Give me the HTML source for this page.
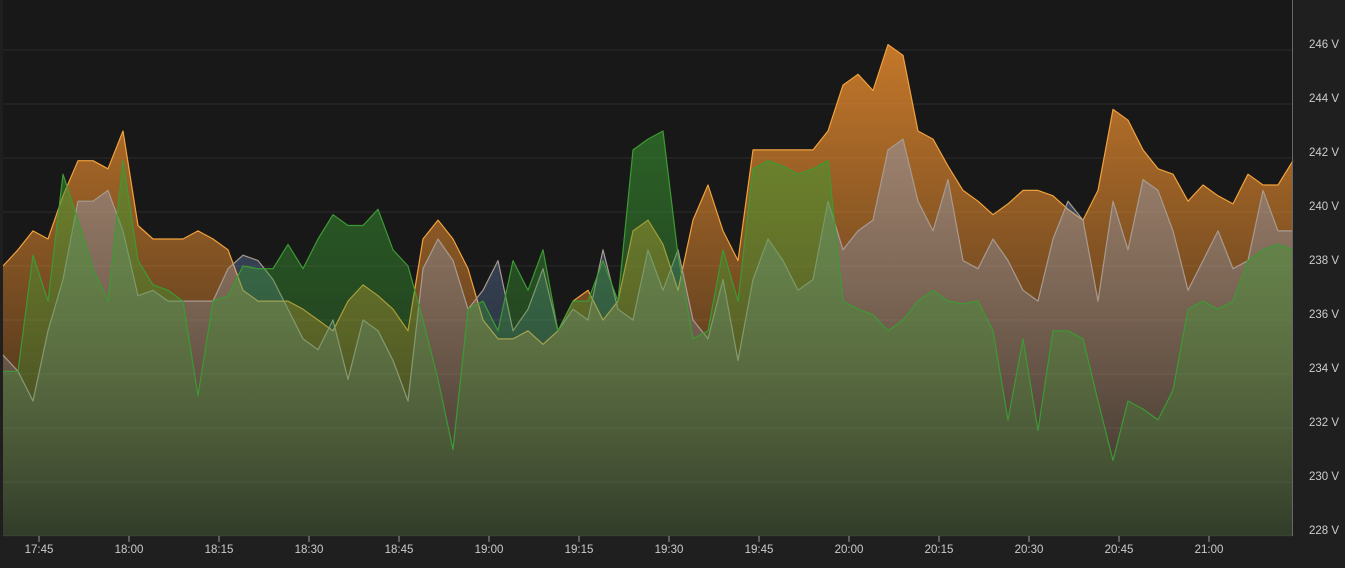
<!DOCTYPE html>
<html><head><meta charset="utf-8"><style>
html,body{margin:0;padding:0;background:#1f1f1f;overflow:hidden}
svg{display:block}
text{font-family:"Liberation Sans",sans-serif;font-size:11.5px;fill:#cccccc}
</style></head><body>
<svg id="chart" width="1345" height="568" viewBox="0 0 1345 568" xmlns="http://www.w3.org/2000/svg">
<defs>
<linearGradient id="gO" gradientUnits="userSpaceOnUse" x1="0" y1="40" x2="0" y2="536"><stop offset="0" stop-color="#ff9830" stop-opacity="0.75"/><stop offset="1" stop-color="#ff9830" stop-opacity="0.08"/></linearGradient>
<linearGradient id="gB" gradientUnits="userSpaceOnUse" x1="0" y1="40" x2="0" y2="536"><stop offset="0" stop-color="#8ab8ff" stop-opacity="0.4"/><stop offset="1" stop-color="#8ab8ff" stop-opacity="0.06"/></linearGradient>
<linearGradient id="gG" gradientUnits="userSpaceOnUse" x1="0" y1="40" x2="0" y2="536"><stop offset="0" stop-color="#3a9a32" stop-opacity="0.65"/><stop offset="1" stop-color="#3a9a32" stop-opacity="0.15"/></linearGradient>
</defs>
<rect x="3" y="0" width="1289" height="536" fill="#181818"/>
<g id="grid"></g><g id="series"></g><g id="axes"></g>
<line x1="1292.5" y1="0" x2="1292.5" y2="536" stroke="#666" stroke-width="1"/>
</svg>
<script>
const startTime = "17:39";
const stepMinutes = 2.5;
const orange = [238.0,238.6,239.3,239.0,240.6,241.9,241.9,241.6,243.0,239.5,
239.0,239.0,239.0,239.3,239.0,238.6,237.1,236.7,236.7,236.7,
236.4,236.0,235.6,236.7,237.3,236.9,236.4,235.6,239.0,239.7,
239.0,237.9,236.0,235.3,235.3,235.6,235.1,235.6,236.7,237.1,
236.0,236.7,239.3,239.7,238.8,237.1,239.7,241.0,239.3,238.2,
242.3,242.3,242.3,242.3,242.3,243.0,244.7,245.1,244.5,246.2,
245.8,243.0,242.7,241.7,240.8,240.4,239.9,240.3,240.8,240.8,
240.6,240.1,239.7,240.8,243.8,243.4,242.3,241.6,241.4,240.4,
241.0,240.6,240.3,241.4,241.0,241.0,241.9];
const blue = [234.7,234.1,233.0,235.6,237.5,240.4,240.4,240.8,239.3,236.9,
237.1,236.7,236.7,236.7,236.7,237.9,238.4,238.2,237.5,236.4,
235.3,234.9,236.0,233.8,236.0,235.6,234.5,233.0,237.9,239.0,
238.2,236.4,237.1,238.2,235.6,236.4,237.9,235.6,236.4,236.0,
238.6,236.4,236.0,238.6,237.1,238.6,236.0,235.3,237.5,234.5,
237.5,239.0,238.2,237.1,237.5,240.4,238.6,239.3,239.7,242.3,
242.7,240.4,239.3,241.2,238.2,237.9,239.0,238.2,237.1,236.7,
239.0,240.4,239.7,236.7,240.4,238.6,241.2,240.8,239.3,237.1,
238.2,239.3,237.9,238.2,240.8,239.3,239.3];
const green = [234.1,234.1,238.4,236.7,241.4,239.7,237.9,236.7,241.9,238.2,
237.3,237.1,236.7,233.2,236.7,236.9,238.0,237.9,237.9,238.8,
237.9,239.0,239.9,239.5,239.5,240.1,238.6,238.0,236.0,233.8,
231.2,236.4,236.7,235.6,238.2,237.1,238.6,235.6,236.7,236.7,
238.2,236.7,242.3,242.7,243.0,238.4,235.3,235.6,238.6,236.7,
241.6,241.9,241.7,241.4,241.6,241.9,236.7,236.4,236.2,235.6,
236.0,236.7,237.1,236.7,236.6,236.7,235.6,232.3,235.3,231.9,
235.6,235.6,235.3,233.0,230.8,233.0,232.7,232.3,233.4,236.4,
236.7,236.4,236.7,238.2,238.6,238.8,238.6];
const yTicks = [228,230,232,234,236,238,240,242,244,246];
const xTicks = ["17:45","18:00","18:15","18:30","18:45","19:00","19:15","19:30","19:45","20:00","20:15","20:30","20:45","21:00"];

const NS="http://www.w3.org/2000/svg";
const X0=3, PX_PER_MIN=6;
function toMin(s){const p=s.split(":");return +p[0]*60+ +p[1];}
const t0=toMin(startTime);
function xScale(m){return X0+(m-t0)*PX_PER_MIN;}
function yScale(v){return 104+(244-v)*27;}
function mk(tag,attrs,parent){const e=document.createElementNS(NS,tag);for(const k in attrs)e.setAttribute(k,attrs[k]);parent.appendChild(e);return e;}
const grid=document.getElementById('grid'), ser=document.getElementById('series'), axes=document.getElementById('axes');
yTicks.forEach(v=>{
  const y=yScale(v);
  const l=mk('line',{x1:X0,x2:1292,y1:y,y2:y,stroke:'#2b2b2b','stroke-width':1},grid);
  
  
  const t=mk('text',{x:1309,y:y-2},axes);
  t.textContent=v+" V";
  
  
});
xTicks.forEach(s=>{
  const x=xScale(toMin(s));
  const l=mk('line',{x1:x,x2:x,y1:536,y2:542,stroke:'#999','stroke-width':1},axes);
  
  
  const t=mk('text',{x:x,y:553,'text-anchor':'middle'},axes);
  t.textContent=s;
  
  
});
function draw(vals,fill,stroke,name){
  const pts=vals.map((v,i)=>[xScale(t0+i*stepMinutes),yScale(v)]);
  const line=pts.map((p,i)=>(i?'L':'M')+p[0].toFixed(1)+','+p[1].toFixed(1)).join('');
  const last=pts[pts.length-1][0], first=pts[0][0];
  const a=mk('path',{d:line+'L'+last+',536L'+first+',536Z',fill:fill,stroke:'none'},ser);
  
  
  const l=mk('path',{d:line,fill:'none',stroke:stroke,'stroke-width':1.2,'stroke-linejoin':'round'},ser);
  
  
}
draw(orange,'url(#gO)','#f2a23c','orange-series');
draw(blue,'url(#gB)','#a89a90','blue-series');
draw(green,'url(#gG)','#3c9a34','green-series');
</script>
</body></html>
